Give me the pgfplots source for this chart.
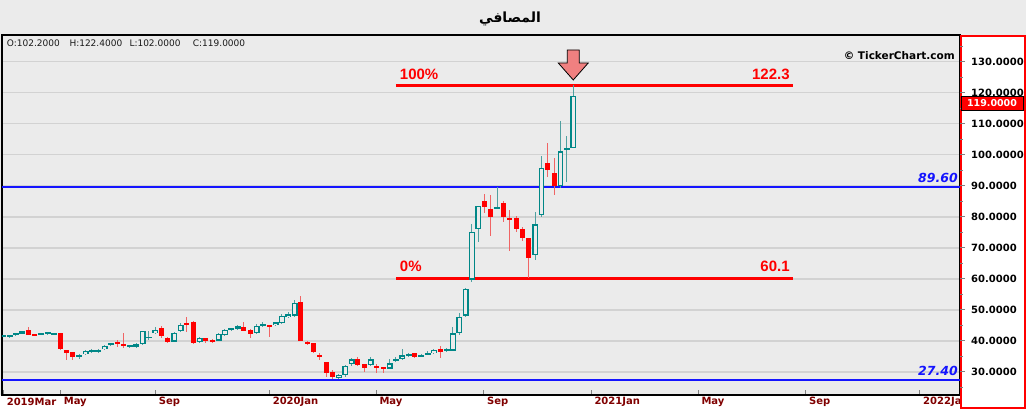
\documentclass[border=0pt]{standalone}
\usepackage{fontspec}
\usepackage{pgfplots}
\usepackage{pgfplotstable}
\pgfplotsset{compat=1.18}
\setmainfont{DejaVu Sans}
\newfontfamily\arabicfont[Script=Arabic]{DejaVu Sans}
\newfontfamily\arialfont{Liberation Sans}
\TeXXeTstate=1

\definecolor{bgc}{RGB}{235,235,235}
\definecolor{gridc}{RGB}{210,210,210}
\definecolor{upc}{RGB}{0,135,135}
\definecolor{upwick}{RGB}{80,160,160}
\definecolor{dnc}{RGB}{255,0,0}
\definecolor{dnwick}{RGB}{240,100,100}
\definecolor{bluec}{RGB}{20,20,255}
\definecolor{arrowc}{RGB}{240,128,128}
\definecolor{labc}{RGB}{128,0,0}

% weekly candles, x = bar number
\pgfplotstableread{
i o h l c
1 41.5 42.0 41.3 41.8
2 41.4 41.8 41.0 41.6
3 41.7 42.6 41.5 42.4
4 42.3 43.3 42.1 43.1
7 41.9 42.6 41.8 42.5
8 42.3 42.8 42.0 42.5
9 42.0 42.4 41.8 42.2
13 34.9 35.6 34.2 35.1
14 35.6 36.9 35.3 36.7
15 36.7 37.3 36.2 36.9
16 36.7 37.3 36.0 36.9
17 37.2 38.5 37.0 38.4
18 38.5 39.4 38.3 39.2
21 37.9 38.7 37.6 38.5
22 38.1 39.3 37.8 38.9
23 38.8 43.2 38.7 43.1
24 41.0 43.0 40.3 41.1
25 42.4 44.4 42.2 43.5
28 39.7 42.9 39.5 42.6
29 43.0 45.8 42.8 45.2
32 39.7 41.2 39.2 40.9
35 40.0 42.4 39.8 42.2
36 41.9 43.7 41.5 43.5
37 43.6 44.0 43.3 43.8
38 43.8 45.0 43.5 44.6
41 42.4 45.3 42.2 44.9
42 45.0 46.1 44.4 45.1
44 45.0 46.0 44.8 45.9
45 45.7 48.5 45.5 48.1
46 47.6 49.2 47.4 48.5
47 48.1 53.2 47.8 52.2
54 27.9 29.3 27.6 29.1
55 28.9 32.3 28.4 32.0
56 32.6 34.4 31.8 34.0
59 32.1 34.7 31.9 34.0
62 31.0 34.0 30.8 32.7
63 33.6 34.6 33.0 34.1
64 34.0 37.3 33.8 35.3
65 35.2 36.1 34.8 35.5
67 34.9 35.6 34.7 35.4
68 35.6 36.6 35.3 36.0
69 35.9 37.2 35.6 37.0
71 36.9 37.6 36.4 37.0
72 36.8 44.4 36.6 42.4
73 42.4 49.0 42.0 47.6
74 48.1 57.0 47.6 56.7
75 59.7 77.6 58.8 75.1
76 76.0 83.6 71.7 83.4
79 82.7 89.6 82.5 83.1
85 67.6 81.6 65.9 77.5
86 80.5 99.5 79.8 95.7
89 89.8 110.9 89.3 101.1
90 101.7 106.1 91.2 102.1
91 102.2 122.4 102.0 119.0
}\upcandles

\pgfplotstableread{
i o h l c
5 43.5 44.4 41.7 41.9
6 42.2 42.3 41.7 41.8
10 42.5 42.6 37.0 37.2
11 36.9 37.0 33.8 36.2
12 36.4 36.5 33.8 34.9
19 39.7 40.3 38.1 38.9
20 39.0 42.4 37.6 38.5
26 44.2 44.6 41.0 41.4
27 41.0 41.2 39.4 39.7
30 45.6 47.6 42.8 45.0
31 46.0 46.4 38.8 39.2
33 40.9 41.0 39.2 40.0
34 40.3 40.6 39.4 39.5
39 44.4 46.2 43.0 43.3
40 43.5 43.7 41.0 42.1
43 45.0 45.2 41.1 44.6
48 52.6 54.3 39.8 40.0
49 39.7 39.9 38.7 39.0
50 39.2 39.3 35.9 36.5
51 35.3 35.9 33.8 34.9
52 33.1 33.2 28.2 29.5
53 29.8 30.6 27.5 28.2
57 34.0 34.9 32.0 32.1
58 32.4 32.5 30.0 31.3
60 31.6 32.5 29.5 31.4
61 31.4 31.5 29.7 30.9
66 35.9 36.0 34.4 34.9
70 37.3 38.3 34.3 36.5
77 85.0 87.3 81.3 83.0
78 82.5 87.0 73.8 80.0
80 84.4 85.1 78.4 79.8
81 79.5 82.1 69.0 78.9
82 79.6 80.2 75.1 75.9
83 75.9 76.8 72.3 73.0
84 73.0 73.2 60.1 66.8
87 97.2 103.7 92.7 95.1
88 94.2 99.0 87.0 89.8
}\dncandles

\pgfplotsset{
  chartframe/.style={
    scale only axis, width=958bp, height=360bp,
    xmin=0.795, xmax=152.07, ymin=22.5, ymax=138.6,
  },
  candle/.style={draw=none, mark=none, forget plot,
    error bars/.cd, y dir=both, y explicit, error mark=none,
    error bar style={#1}},
}

\begin{document}
\begin{tikzpicture}
\useasboundingbox (-2bp,-14bp) rectangle (1024bp,395bp);
\fill[bgc] (-2bp,-14bp) rectangle (1024bp,395bp);
\fill[white] (-2bp,-14bp) rectangle (958bp,0bp);
\node at (508bp,376bp) {\arabicfont\fontsize{14bp}{16bp}\selectfont\bfseries\beginR المصافي\endR};

\begin{axis}[
  chartframe,
  axis line style={black, line width=1.6bp},
  ytick={30,40,...,130}, yticklabels=\empty, y tick style={draw=none},
  ymajorgrids, major grid style={draw=gridc, line width=1.6bp},
  xtick={1,10,25,43,59.85,76.85,93.8,110.7,127.7,145.7},
  xticklabels={2019Mar,May,Sep,2020Jan,May,Sep,2021Jan,May,Sep,2022Jan},
  xtick pos=left,
  major tick length=5bp,
  x tick style={draw=gray, line width=0.8bp},
  xticklabel style={anchor=west, yshift=-6.5bp, text=labc,
    font=\fontsize{10bp}{12bp}\selectfont\bfseries},
]
% support / resistance
\addplot[bluec, line width=2bp] coordinates {(0.795,89.6) (152.07,89.6)};
\addplot[bluec, line width=2bp] coordinates {(0.795,27.4) (152.07,27.4)};
% fibonacci 0% / 100%
\addplot[red, line width=3bp] coordinates {(63.0,122.3) (125.7,122.3)};
\addplot[red, line width=3bp] coordinates {(63.0,60.1) (125.7,60.1)};

% wicks
\addplot[candle={draw=upwick, line width=1bp}]
  table[x=i, y expr={(\thisrow{h}+\thisrow{l})/2}, y error expr={(\thisrow{h}-\thisrow{l})/2}] {\upcandles};
\addplot[candle={draw=dnwick, line width=1bp}]
  table[x=i, y expr={(\thisrow{h}+\thisrow{l})/2}, y error expr={(\thisrow{h}-\thisrow{l})/2}] {\dncandles};
% bodies
\addplot[candle={draw=dnc, line width=5bp}]
  table[x=i, y expr={(\thisrow{o}+\thisrow{c})/2}, y error expr={max((\thisrow{o}-\thisrow{c})/2,0.3)}] {\dncandles};
\addplot[candle={draw=upc, line width=5.8bp}]
  table[x=i, y expr={(\thisrow{o}+\thisrow{c})/2}, y error expr={max((\thisrow{c}-\thisrow{o})/2,0.3)}] {\upcandles};
\addplot[candle={draw=bgc, line width=3.2bp}]
  table[x=i, y expr={(\thisrow{o}+\thisrow{c})/2}, y error expr={max((\thisrow{c}-\thisrow{o})/2-0.42,0)}] {\upcandles};

% labels
\node[anchor=base west, inner sep=0, text=red, yshift=6.5bp,
  font=\arialfont\fontsize{15bp}{17bp}\selectfont\bfseries] at (axis cs:63.6,122.3) {100\%};
\node[anchor=base east, inner sep=0, text=red, yshift=6.5bp,
  font=\arialfont\fontsize{15bp}{17bp}\selectfont\bfseries] at (axis cs:125.2,122.3) {122.3};
\node[anchor=base west, inner sep=0, text=red, yshift=6.5bp,
  font=\arialfont\fontsize{15bp}{17bp}\selectfont\bfseries] at (axis cs:63.6,60.1) {0\%};
\node[anchor=base east, inner sep=0, text=red, yshift=6.5bp,
  font=\arialfont\fontsize{15bp}{17bp}\selectfont\bfseries] at (axis cs:125.2,60.1) {60.1};
\node[anchor=base east, inner sep=0, text=bluec, yshift=4bp,
  font=\fontsize{12.5bp}{14bp}\selectfont\bfseries\itshape] at (axis cs:151.75,89.6) {89.60};
\node[anchor=base east, inner sep=0, text=bluec, yshift=4.5bp,
  font=\fontsize{12.5bp}{14bp}\selectfont\bfseries\itshape] at (axis cs:151.75,27.4) {27.40};
\coordinate (tip) at (axis cs:91,124.1);
\end{axis}

% arrow over the last bar
\draw[black, line width=0.8bp, fill=arrowc] (tip) -- ++(-15bp,17bp) -- ++(9bp,0bp)
  -- ++(0bp,13bp) -- ++(12bp,0bp) -- ++(0bp,-13bp) -- ++(9bp,0bp) -- cycle;

% header texts
\begin{scope}[every node/.style={anchor=base west, inner sep=0, text={rgb,255:red,25;green,25;blue,25},
    font=\fontsize{9bp}{11bp}\selectfont}]
\node at (4.7bp,348bp) {O:102.2000};
\node at (67.3bp,348bp) {H:122.4000};
\node at (127.3bp,348bp) {L:102.0000};
\node at (190.7bp,348bp) {C:119.0000};
\end{scope}
\node[anchor=base east, inner sep=0, font=\fontsize{10.5bp}{12bp}\selectfont\bfseries]
  at (953bp,335.5bp) {© TickerChart.com};

% price scale panel
\fill[white] (958bp,-14bp) rectangle (1024bp,360bp);
\draw[red, line width=2bp] (959bp,-13bp) rectangle (1023bp,359bp);

\begin{axis}[
  chartframe,
  hide x axis,
  axis line style={draw=none},
  ytick={30,40,...,130}, minor ytick={25,35,...,135},
  yticklabels={30.0000,40.0000,50.0000,60.0000,70.0000,80.0000,90.0000,100.0000,110.0000,120.0000,130.0000},
  ytick pos=right, yticklabel pos=right,
  tick align=outside, major tick length=5bp, minor tick length=3bp,
  tick style={draw=gray, line width=1bp},
  yticklabel style={xshift=2.7bp, font=\fontsize{10bp}{12bp}\selectfont\bfseries},
]
\end{axis}

\node[fill=red, draw=black, line width=1bp, minimum width=62bp, minimum height=13.3bp,
  inner sep=0, text=white, font=\fontsize{9.5bp}{11bp}\selectfont\bfseries]
  at (990bp,291.6bp) {119.0000};
\end{tikzpicture}
\end{document}
